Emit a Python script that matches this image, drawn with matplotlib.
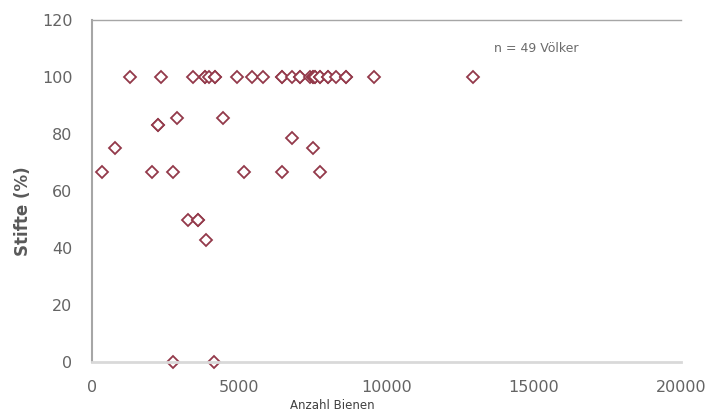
import matplotlib.pyplot as plt

# Anzahl Bienen je Volk und Anteil Stifte (%)
bees_100 = [1290, 2340, 3420, 3830, 3830, 3970, 4170, 4170, 4920, 5420, 5800,
            6440, 6440, 6780, 7050, 7050, 7390, 7490, 7490, 7590, 7590, 7730,
            7730, 8000, 8000, 8300, 8640, 8640, 9560, 12950]
pins_100 = [100] * len(bees_100)

bees_other = [2240, 2880, 4440, 780, 7490, 6780,
              340, 2030, 2750, 5150, 6440, 7760,
              3250, 3590, 3860, 2750, 4140, 3590, 2240]
pins_other = [83.3, 85.7, 85.7, 75, 75, 78.6,
              66.7, 66.7, 66.7, 66.7, 66.7, 66.7,
              50, 50, 42.9, 0, 0, 50, 83.3]

x_ticks = [0, 5000, 10000, 15000, 20000]
y_ticks = [0, 20, 40, 60, 80, 100, 120]

plt.rcParams["font.family"] = ["DejaVu Sans"]

fig = plt.figure(figsize=(7.24, 4.15), dpi=100)
ax = fig.add_axes([0.127, 0.1277, 0.8136, 0.8241])

marker_style = dict(
    linestyle="none",
    marker="D",
    markersize=6.2,
    markerfacecolor="white",
    markeredgecolor="#93394a",
    markeredgewidth=1.3,
    clip_on=False,
)
ax.plot(bees_100 + bees_other, pins_100 + pins_other, **marker_style)

ax.set_xlim(0, 20000)
ax.set_ylim(0, 120)
ax.set_xticks(x_ticks)
ax.set_yticks(y_ticks)
ax.tick_params(length=0, labelsize=11.5, labelcolor="#646464")
ax.tick_params(axis="y", pad=14)
ax.tick_params(axis="x", pad=13)

ax.spines["right"].set_visible(False)
ax.spines["left"].set_color("#a6a6a6")
ax.spines["left"].set_linewidth(1.5)
ax.spines["top"].set_color("#a6a6a6")
ax.spines["top"].set_linewidth(1.0)
ax.spines["bottom"].set_color("#d9d9d9")
ax.spines["bottom"].set_linewidth(2.0)

fig.text(0.032, 0.49, "Stifte (%)", fontsize=12, fontweight="bold",
         color="#595959", rotation=90, ha="center", va="center")
fig.text(0.459, 0.008, "Anzahl Bienen", fontsize=8.5, color="#404040",
         ha="center", va="bottom")
ax.text(0.754, 0.917, "n = 49 Völker", transform=ax.transAxes, fontsize=9,
        color="#6b6b6b", ha="center", va="center")

fig.savefig("out.png", dpi=100)
